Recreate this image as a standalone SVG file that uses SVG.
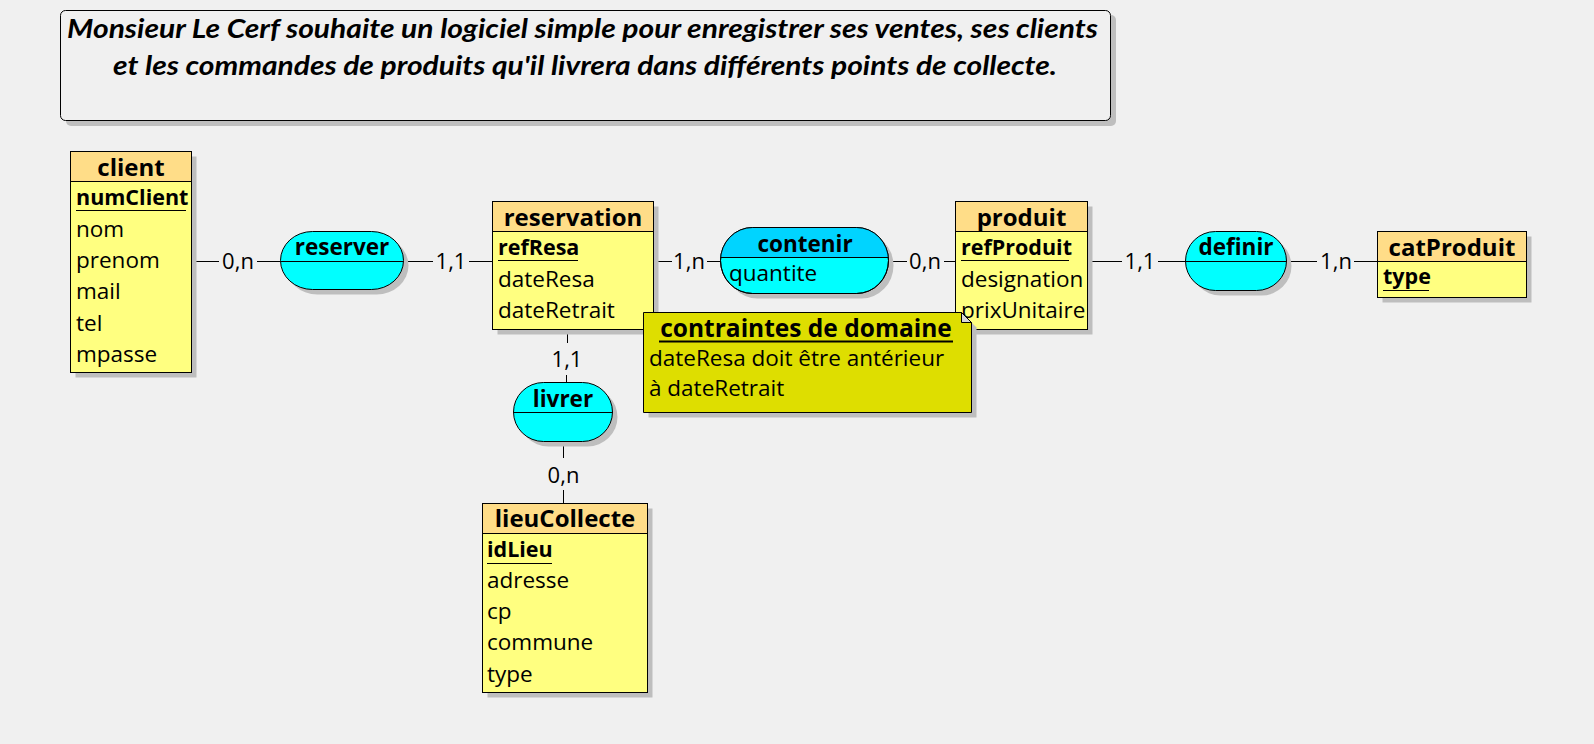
<svg xmlns="http://www.w3.org/2000/svg" width="1594" height="744" viewBox="0 0 1594 744">
<defs>
<style>
.bg{fill:#f0f0f0}
.sh{fill:#bebebe}
.hd{fill:#ffdd88;stroke:#000;stroke-width:1}
.bd{fill:#ffff80;stroke:#000;stroke-width:1}
.as{fill:#00ffff;stroke:#000;stroke-width:1}
.ln{stroke:#000;stroke-width:1;fill:none}
text{font-family:"Open Sans","Noto Sans","DejaVu Sans",sans-serif;fill:#000}
.th{font-size:24px;font-weight:bold;text-anchor:middle}
.tk{font-size:21.5px;font-weight:bold}
.ta{font-size:22.5px}
.tn{font-size:22.5px;font-weight:bold;text-anchor:middle}
.tc{font-size:22px;text-anchor:middle}
.tt{font-family:Lato,"Liberation Sans",sans-serif;font-size:26px;font-weight:bold;font-style:italic}
</style>
<clipPath id="topc"><rect x="700" y="200" width="220" height="57.5"/></clipPath>
</defs>
<rect class="bg" x="0" y="0" width="1594" height="744"/>

<g id="title">
<rect class="sh" x="66" y="15" width="1050" height="111" rx="5"/>
<rect x="60.5" y="10.5" width="1050" height="110" rx="5" fill="#f0f0f0" stroke="#000"/>
<text class="tt" x="67" y="38" textLength="1031" lengthAdjust="spacingAndGlyphs">Monsieur Le Cerf souhaite un logiciel simple pour enregistrer ses ventes, ses clients</text>
<text class="tt" x="113" y="75" textLength="944" lengthAdjust="spacingAndGlyphs">et les commandes de produits qu'il livrera dans différents points de collecte.</text>
</g>

<g id="connectors">
<path class="ln" d="M192,261.5H219M257,261.5H280"/>
<text class="tc" x="238" y="269">0,n</text>
<path class="ln" d="M403,261.5H433M469,261.5H492"/>
<text class="tc" x="451" y="269">1,1</text>
<path class="ln" d="M653,261.5H672M707,261.5H720"/>
<text class="tc" x="689" y="269">1,n</text>
<path class="ln" d="M889,261.5H907M944,261.5H956"/>
<text class="tc" x="925" y="269">0,n</text>
<path class="ln" d="M1087,261.5H1122M1158,261.5H1185"/>
<text class="tc" x="1140" y="269">1,1</text>
<path class="ln" d="M1287,261.5H1317M1354,261.5H1377"/>
<text class="tc" x="1336" y="269">1,n</text>
<path class="ln" d="M567.5,330V343M566.5,375V382"/>
<text class="tc" x="567" y="366.7">1,1</text>
<path class="ln" d="M563.5,441V458M563.5,490V503"/>
<text class="tc" x="563.5" y="483.3">0,n</text>
</g>

<g id="client">
<rect class="sh" x="75.5" y="156.5" width="121" height="221"/>
<rect class="bd" x="70.5" y="151.5" width="121" height="221"/>
<rect class="hd" x="70.5" y="151.5" width="121" height="30"/>
<text class="th" x="131" y="176">client</text>
<text class="tk" x="76" y="205">numClient</text>
<path class="ln" d="M76,210.5H186"/>
<text class="ta" x="76" y="236.7">nom</text>
<text class="ta" x="76" y="267.7">prenom</text>
<text class="ta" x="76" y="299">mail</text>
<text class="ta" x="76" y="330.7">tel</text>
<text class="ta" x="76" y="361.7">mpasse</text>
</g>

<g id="reserver">
<rect class="sh" x="285.5" y="236.5" width="123" height="58" rx="32" ry="29"/>
<rect class="as" x="280.5" y="231.5" width="123" height="58" rx="32" ry="29"/>
<path class="ln" d="M280.5,261.5H403.5"/>
<text class="tn" x="342" y="255">reserver</text>
</g>

<g id="reservation">
<rect class="sh" x="497.5" y="206.5" width="161" height="128"/>
<rect class="bd" x="492.5" y="201.5" width="161" height="128"/>
<rect class="hd" x="492.5" y="201.5" width="161" height="30"/>
<text class="th" x="573" y="226">reservation</text>
<text class="tk" x="498" y="255">refResa</text>
<path class="ln" d="M498,260.5H578"/>
<text class="ta" x="498" y="286.7">dateResa</text>
<text class="ta" x="498" y="317.7">dateRetrait</text>
</g>

<g id="contenir">
<rect class="sh" x="725.5" y="232.5" width="168" height="66" rx="32" ry="33"/>
<rect class="as" x="720.5" y="227.5" width="168" height="66" rx="32" ry="33"/>
<rect x="720.5" y="227.5" width="168" height="66" rx="32" ry="33" fill="#00d4ff" clip-path="url(#topc)"/>
<rect x="720.5" y="227.5" width="168" height="66" rx="32" ry="33" class="ln"/>
<path class="ln" d="M720.5,257.5H888.5"/>
<text class="tn" x="805" y="251.7">contenir</text>
<text class="ta" x="729" y="280.7">quantite</text>
</g>

<g id="produit">
<rect class="sh" x="960.5" y="206.5" width="132" height="128"/>
<rect class="bd" x="955.5" y="201.5" width="132" height="128"/>
<rect class="hd" x="955.5" y="201.5" width="132" height="30"/>
<text class="th" x="1021.5" y="226">produit</text>
<text class="tk" x="961" y="255">refProduit</text>
<path class="ln" d="M961,260.5H1069"/>
<text class="ta" x="961" y="286.7">designation</text>
<text class="ta" x="961" y="317.7">prixUnitaire</text>
</g>

<g id="definir">
<rect class="sh" x="1190.5" y="236.5" width="101" height="59" rx="30" ry="29.5"/>
<rect class="as" x="1185.5" y="231.5" width="101" height="59" rx="30" ry="29.5"/>
<path class="ln" d="M1185.5,261.5H1286.5"/>
<text class="tn" x="1236" y="255">definir</text>
</g>

<g id="catProduit">
<rect class="sh" x="1382.5" y="236.5" width="149" height="66"/>
<rect class="bd" x="1377.5" y="231.5" width="149" height="66"/>
<rect class="hd" x="1377.5" y="231.5" width="149" height="30"/>
<text class="th" x="1452" y="255.7">catProduit</text>
<text class="tk" x="1383" y="284.3">type</text>
<path class="ln" d="M1383,290.5H1429"/>
</g>

<g id="livrer">
<rect class="sh" x="518.5" y="387.5" width="99" height="59" rx="30" ry="29.5"/>
<rect class="as" x="513.5" y="382.5" width="99" height="59" rx="30" ry="29.5"/>
<path class="ln" d="M513.5,412.5H612.5"/>
<text class="tn" x="563" y="406.7">livrer</text>
</g>

<g id="lieuCollecte">
<rect class="sh" x="487.5" y="508.5" width="165" height="189"/>
<rect class="bd" x="482.5" y="503.5" width="165" height="189"/>
<rect class="hd" x="482.5" y="503.5" width="165" height="30"/>
<text class="th" x="565" y="526.7">lieuCollecte</text>
<text class="tk" x="487" y="557.3">idLieu</text>
<path class="ln" d="M487,563.5H552"/>
<text class="ta" x="487" y="588.3">adresse</text>
<text class="ta" x="487" y="619">cp</text>
<text class="ta" x="487" y="650">commune</text>
<text class="ta" x="487" y="681.7">type</text>
</g>

<g id="contraintes">
<path class="sh" d="M648.5,317.5H966.5L976.5,327.5V417.5H648.5Z"/>
<path d="M643.5,312.5H961.5L971.5,322.5V412.5H643.5Z" fill="#dede00" stroke="#000"/>
<path d="M961.5,312.5V322.5H971.5Z" fill="#d8d8d8" stroke="#000"/>
<text x="806" y="336.7" style="font-size:24.5px;font-weight:bold;text-anchor:middle">contraintes de domaine</text>
<path d="M659,341.5H953" stroke="#000" stroke-width="2"/>
<text class="ta" x="649" y="366">dateResa doit être antérieur</text>
<text class="ta" x="649" y="395.7">à dateRetrait</text>
</g>
</svg>
